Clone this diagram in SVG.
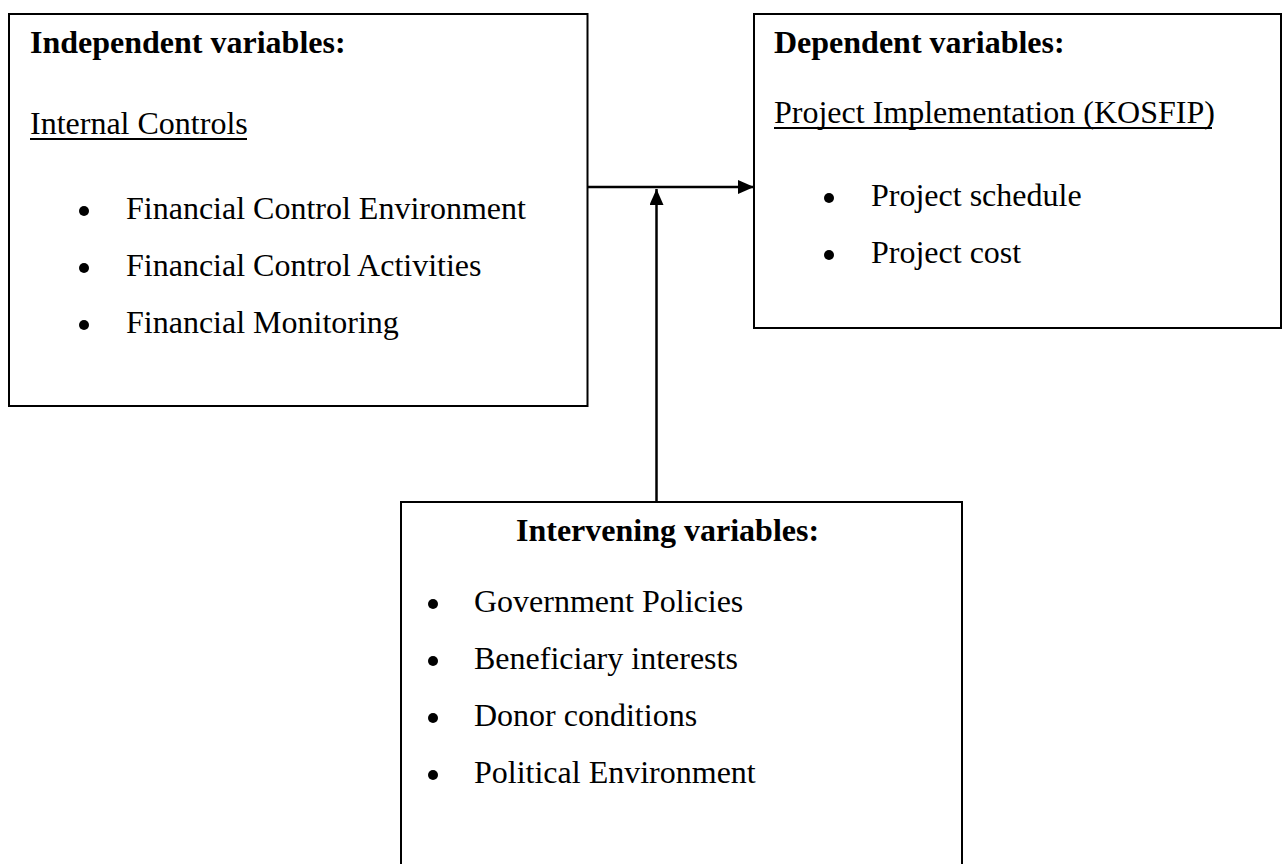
<svg xmlns="http://www.w3.org/2000/svg" width="1287" height="864" viewBox="0 0 1287 864">
  <style>
    .box { fill: #ffffff; stroke: #000000; stroke-width: 2; }
    .t { font-family: "Liberation Serif", "Times New Roman", serif; font-size: 32px; fill: #000000; }
    .h { font-weight: bold; }
    .ul { stroke: #000000; stroke-width: 2; }
    .bullet { fill: #000000; }
    .conn { stroke: #000000; stroke-width: 2.5; fill: none; }
  </style>
  <defs>
    <marker id="arrow" markerUnits="userSpaceOnUse" markerWidth="16" markerHeight="14" refX="16" refY="7" orient="auto">
      <path d="M0,0 L16,7 L0,14 Z" fill="#000000"/>
    </marker>
  </defs>
  <rect width="1287" height="864" fill="#ffffff"/>

  <g id="independent">
    <rect class="box" x="9" y="14" width="578.5" height="392"/>
    <text class="t h" x="30" y="53">Independent variables:</text>
    <text class="t" x="30" y="134">Internal Controls</text>
    <line class="ul" x1="30" y1="139" x2="247" y2="139"/>
    <circle class="bullet" cx="84" cy="211" r="5"/>
    <text class="t" x="126" y="219">Financial Control Environment</text>
    <circle class="bullet" cx="84" cy="268" r="5"/>
    <text class="t" x="126" y="276">Financial Control Activities</text>
    <circle class="bullet" cx="84" cy="325" r="5"/>
    <text class="t" x="126" y="333">Financial Monitoring</text>
  </g>

  <g id="dependent">
    <rect class="box" x="754" y="14" width="527" height="314"/>
    <text class="t h" x="774" y="53">Dependent variables:</text>
    <text class="t" x="774" y="123">Project Implementation (KOSFIP)</text>
    <line class="ul" x1="774" y1="128" x2="1212" y2="128"/>
    <circle class="bullet" cx="829" cy="198" r="5"/>
    <text class="t" x="871" y="206">Project schedule</text>
    <circle class="bullet" cx="829" cy="255" r="5"/>
    <text class="t" x="871" y="263">Project cost</text>
  </g>

  <g id="intervening">
    <rect class="box" x="401" y="502" width="561" height="372"/>
    <text class="t h" x="516" y="541">Intervening variables:</text>
    <circle class="bullet" cx="433" cy="604" r="5"/>
    <text class="t" x="474" y="612">Government Policies</text>
    <circle class="bullet" cx="433" cy="661" r="5"/>
    <text class="t" x="474" y="669">Beneficiary interests</text>
    <circle class="bullet" cx="433" cy="718" r="5"/>
    <text class="t" x="474" y="726">Donor conditions</text>
    <circle class="bullet" cx="433" cy="775" r="5"/>
    <text class="t" x="474" y="783">Political Environment</text>
  </g>

  <g id="connectors">
    <line class="conn" x1="587.5" y1="187" x2="754" y2="187" marker-end="url(#arrow)"/>
    <line class="conn" x1="656.5" y1="502" x2="656.5" y2="189" marker-end="url(#arrow)"/>
  </g>
</svg>
